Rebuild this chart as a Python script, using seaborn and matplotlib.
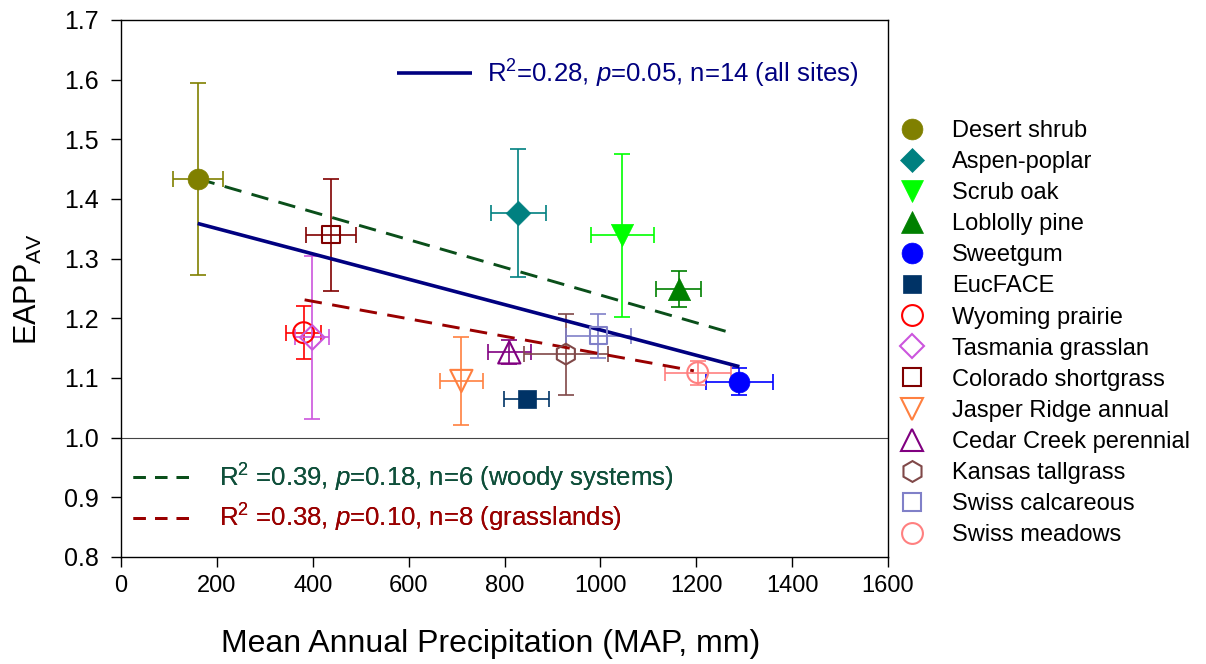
import matplotlib
matplotlib.use("Agg")
import matplotlib.pyplot as plt
import seaborn as sns
import numpy as np
from matplotlib.lines import Line2D

# ---------------- data ----------------
sites = ["Desert shrub", "Aspen-poplar", "Scrub oak", "Loblolly pine", "Sweetgum",
         "EucFACE", "Wyoming prairie", "Tasmania grasslan", "Colorado shortgrass",
         "Jasper Ridge annual", "Cedar Creek perennial", "Kansas tallgrass",
         "Swiss calcareous", "Swiss meadows"]
map_mm = [160, 829, 1046, 1163, 1290, 846, 381, 399, 438, 710, 810, 928, 996, 1203]
eapp = [1.434, 1.377, 1.339, 1.249, 1.094, 1.065, 1.176, 1.168, 1.340, 1.095, 1.143, 1.140, 1.171, 1.109]
map_err = [52, 57, 66, 47, 70, 47, 37, 35, 52, 45, 45, 88, 67, 69]
eapp_err = [0.161, 0.107, 0.137, 0.030, 0.022, 0.0, 0.044, 0.136, 0.094, 0.073, 0.020, 0.068, 0.037, 0.020]
colors = ["#808000", "#008080", "#00FF00", "#008000", "#0000FF", "#003366", "#FF0000",
          "#CC55DD", "#800000", "#FF8040", "#800080", "#804848", "#8080C8", "#FF8080"]
markers = ["o", "D", "v", "^", "o", "s", "o", "D", "s", "v", "^", "h", "s", "o"]
filled = [True, True, True, True, True, True, False, False, False, False, False, False, False, False]

# regression fits (endpoints of fitted lines)
fit_all_x = [160, 1290]
fit_all_y = [1.359, 1.119]
fit_woody_x = [160, 1280]
fit_woody_y = [1.434, 1.174]
fit_grass_x = [383, 1195]
fit_grass_y = [1.231, 1.112]

lab_all = "R$^2$=0.28, $p$=0.05, n=14 (all sites)"
lab_woody = "R$^2$ =0.39, $p$=0.18, n=6 (woody systems)"
lab_grass = "R$^2$ =0.38, $p$=0.10, n=8 (grasslands)"

# ---------------- style ----------------
sns.set_theme(style="ticks")
plt.rcParams["font.family"] = ["Liberation Sans", "DejaVu Sans"]
plt.rcParams["mathtext.fontset"] = "custom"
plt.rcParams["mathtext.rm"] = "Liberation Sans"
plt.rcParams["mathtext.it"] = "Liberation Sans:italic"
plt.rcParams["mathtext.bf"] = "Liberation Sans:bold"
for k in ["text.color", "axes.labelcolor", "xtick.color", "ytick.color", "axes.edgecolor"]:
    plt.rcParams[k] = "black"

fig = plt.figure(figsize=(12.06, 6.64), dpi=100)
ax = fig.add_axes([121 / 1206, 1 - 557 / 664, 767 / 1206, 537 / 664])

# reference line at 1.0
ax.axhline(1.0, color="#444444", lw=0.8, zorder=1)

# regression lines
woody_col = "#0A4F1A"
grass_col = "#990000"
l_all, = ax.plot(fit_all_x, fit_all_y, color="#000080", lw=2.6, zorder=4, solid_capstyle="butt")
ax.plot(fit_woody_x, fit_woody_y, color=woody_col, lw=2.1, dashes=(6.0, 3.6), zorder=4)
ax.plot(fit_grass_x, fit_grass_y, color=grass_col, lw=2.1, dashes=(6.0, 3.6), zorder=4)
h_woody = Line2D([], [], color=woody_col, lw=2.1, dashes=(4.2, 3.2))
h_grass = Line2D([], [], color=grass_col, lw=2.1, dashes=(4.2, 3.2))

sizes = {"o": 15, "D": 12.5, "v": 16, "^": 16, "s": 12.5, "h": 15}
handles = []
for i, s in enumerate(sites):
    c = colors[i]
    ax.errorbar(map_mm[i], eapp[i], xerr=map_err[i],
                yerr=eapp_err[i] if eapp_err[i] > 0 else None,
                fmt="none", ecolor=c, elinewidth=1.2, capsize=6, capthick=1.2, zorder=3)
    ms = sizes[markers[i]]
    if filled[i]:
        sns.scatterplot(x=[map_mm[i]], y=[eapp[i]], ax=ax, marker=markers[i], s=ms ** 2,
                        color=c, edgecolor=c, linewidth=0.5, zorder=5, legend=False)
    else:
        sns.scatterplot(x=[map_mm[i]], y=[eapp[i]], ax=ax, marker=markers[i], s=ms ** 2,
                        facecolor="none", edgecolor=c, linewidth=1.5, zorder=5, legend=False)
    handles.append(Line2D([], [], linestyle="none", marker=markers[i], markersize=ms,
                          markerfacecolor=c if filled[i] else "none", markeredgecolor=c,
                          markeredgewidth=0.5 if filled[i] else 1.5, label=s))

ax.set_xlim(0, 1600)
ax.set_ylim(0.8, 1.7)
ax.set_xticks(np.arange(0, 1601, 200))
ax.set_yticks(np.round(np.arange(0.8, 1.701, 0.1), 1))
ax.set_yticklabels([f"{v:.1f}" for v in np.arange(0.8, 1.701, 0.1)])
ax.tick_params(axis="y", labelsize=18, direction="out", length=7, width=1, pad=9)
ax.tick_params(axis="x", labelsize=17, direction="out", length=7, width=1, pad=6)
for sp in ax.spines.values():
    sp.set_color("black")
    sp.set_linewidth(1.0)
ax.set_xlabel("Mean Annual Precipitation (MAP, mm)", fontsize=23, labelpad=22)
ax.xaxis.set_label_coords(0.482, -0.135)
ax.set_ylabel("EAPP$_{\\rm AV}$", fontsize=22, labelpad=14)

# regression legends
leg_top = ax.legend([l_all], [lab_all], loc="upper left", bbox_to_anchor=(0.36, 0.93),
                    frameon=False, fontsize=18.5, handlelength=2.9, handletextpad=0.6,
                    borderpad=0, borderaxespad=0)
for t in leg_top.get_texts():
    t.set_color("#000080")
ax.add_artist(leg_top)

leg_bot = ax.legend([h_woody, h_grass], [lab_woody, lab_grass], loc="upper left",
                    bbox_to_anchor=(0.0156, 0.178), frameon=False, fontsize=18.5,
                    handlelength=2.2, handletextpad=1.15, borderpad=0, borderaxespad=0,
                    labelspacing=0.33)
leg_bot.get_texts()[0].set_color("#0F4F3A")
leg_bot.get_texts()[1].set_color(grass_col)
ax.add_artist(leg_bot)

# site legend
fig.legend(handles=handles, loc="upper left", bbox_to_anchor=(900 / 1206, 1 - 120 / 664),
           frameon=False, fontsize=17, handlelength=1.0, handletextpad=1.2,
           labelspacing=0.385, borderpad=0, borderaxespad=0)

fig.savefig("out.png", dpi=100)
